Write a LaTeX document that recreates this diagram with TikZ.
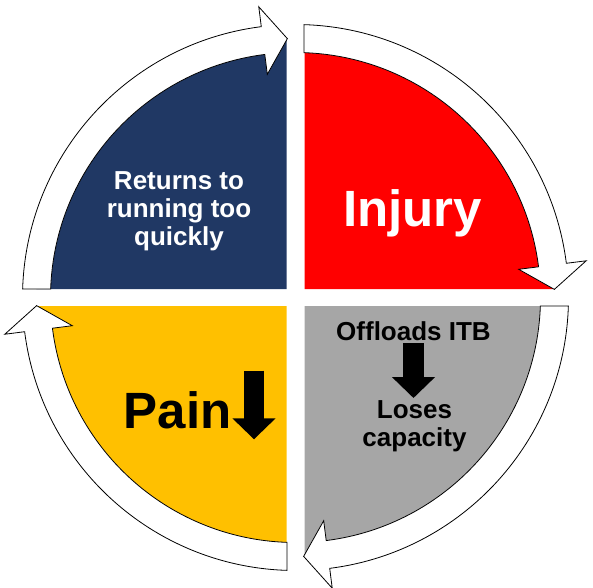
\documentclass[tikz,border=0pt]{standalone}
\usepackage{fontspec}
\setmainfont{Liberation Sans}
\usetikzlibrary{arrows.meta, positioning}

\definecolor{navyq}{RGB}{32,56,100}
\definecolor{redq}{RGB}{255,0,0}
\definecolor{grayq}{RGB}{166,166,166}
\definecolor{amberq}{RGB}{255,192,0}

\tikzset{
    ringarrow/.style={draw=black, fill=white, line width=0.8pt, line join=miter},
    smalltext/.style={font=\bfseries\fontsize{26}{28}\selectfont, inner sep=0pt, align=center},
    bigtext/.style={font=\bfseries\fontsize{51}{56}\selectfont, inner sep=0pt},
    blockdown/.style={line width=20.5pt, -{Triangle[width=42pt, length=21pt]}}
}

\begin{document}
\begin{tikzpicture}[x=1pt, y=1pt]
    \useasboundingbox (-295.5,-289.5) rectangle (297.5,297.5);

    % Quarter sectors
    \fill[navyq] (-9,8.5) -- (-259,8.5) arc[start angle=180, end angle=90, radius=250pt] -- cycle;
    \fill[redq] (9,8.5) -- (9,258.5) arc[start angle=90, end angle=0, radius=250pt] -- cycle;
    \fill[grayq] (9,-8.5) -- (259,-8.5) arc[start angle=0, end angle=-90, radius=250pt] -- cycle;
    \fill[amberq] (-9,-8.5) -- (-9,-258.5) arc[start angle=-90, end angle=-180, radius=250pt] -- cycle;

    % Ring of arrows (clockwise)
    \draw[ringarrow] (178.2:273) arc[start angle=178.2, end angle=97.2, radius=273pt]
        -- (97.2:293) -- (91.8:259) -- (97.2:225) -- (97.2:245)
        arc[start angle=97.2, end angle=178, radius=245pt] -- cycle;
    \draw[ringarrow] (88.2:273) arc[start angle=88.2, end angle=7.2, radius=273pt]
        -- (7.2:293) -- (1.8:259) -- (7.2:225) -- (7.2:245)
        arc[start angle=7.2, end angle=88, radius=245pt] -- cycle;
    \draw[ringarrow] (-1.8:273) arc[start angle=-1.8, end angle=-82.8, radius=273pt]
        -- (-82.8:293) -- (-88.2:259) -- (-82.8:225) -- (-82.8:245)
        arc[start angle=-82.8, end angle=-2, radius=245pt] -- cycle;
    \draw[ringarrow] (-91.8:273) arc[start angle=-91.8, end angle=-172.8, radius=273pt]
        -- (-172.8:293) -- (-178.2:259) -- (-172.8:225) -- (-172.8:245)
        arc[start angle=-172.8, end angle=-92, radius=245pt] -- cycle;

    % Texts
    \node[smalltext, text=white] (returns) at (-116.5,86) {Returns to\\running too\\quickly};
    \node[bigtext, text=white, anchor=base] (injury) at (117,70.8) {Injury};
    \node[smalltext, anchor=base] (offloads) at (118,-42.5) {Offloads ITB};
    \node[smalltext, anchor=north] (loses) at (119,-102.5) {Loses\\capacity};
    \node[bigtext, anchor=base] (pain) at (-118,-130.8) {Pain};

    % Block arrows
    \draw[blockdown, shorten <=3pt, shorten >=2pt] (offloads.south) -- (offloads.south |- loses.north);
    \coordinate (painTop) at (-41.5,-73.2);
    \coordinate (painEnd) at (-41.5,-141.8);
    \draw[blockdown] (painTop) -- (painEnd);
\end{tikzpicture}
\end{document}
